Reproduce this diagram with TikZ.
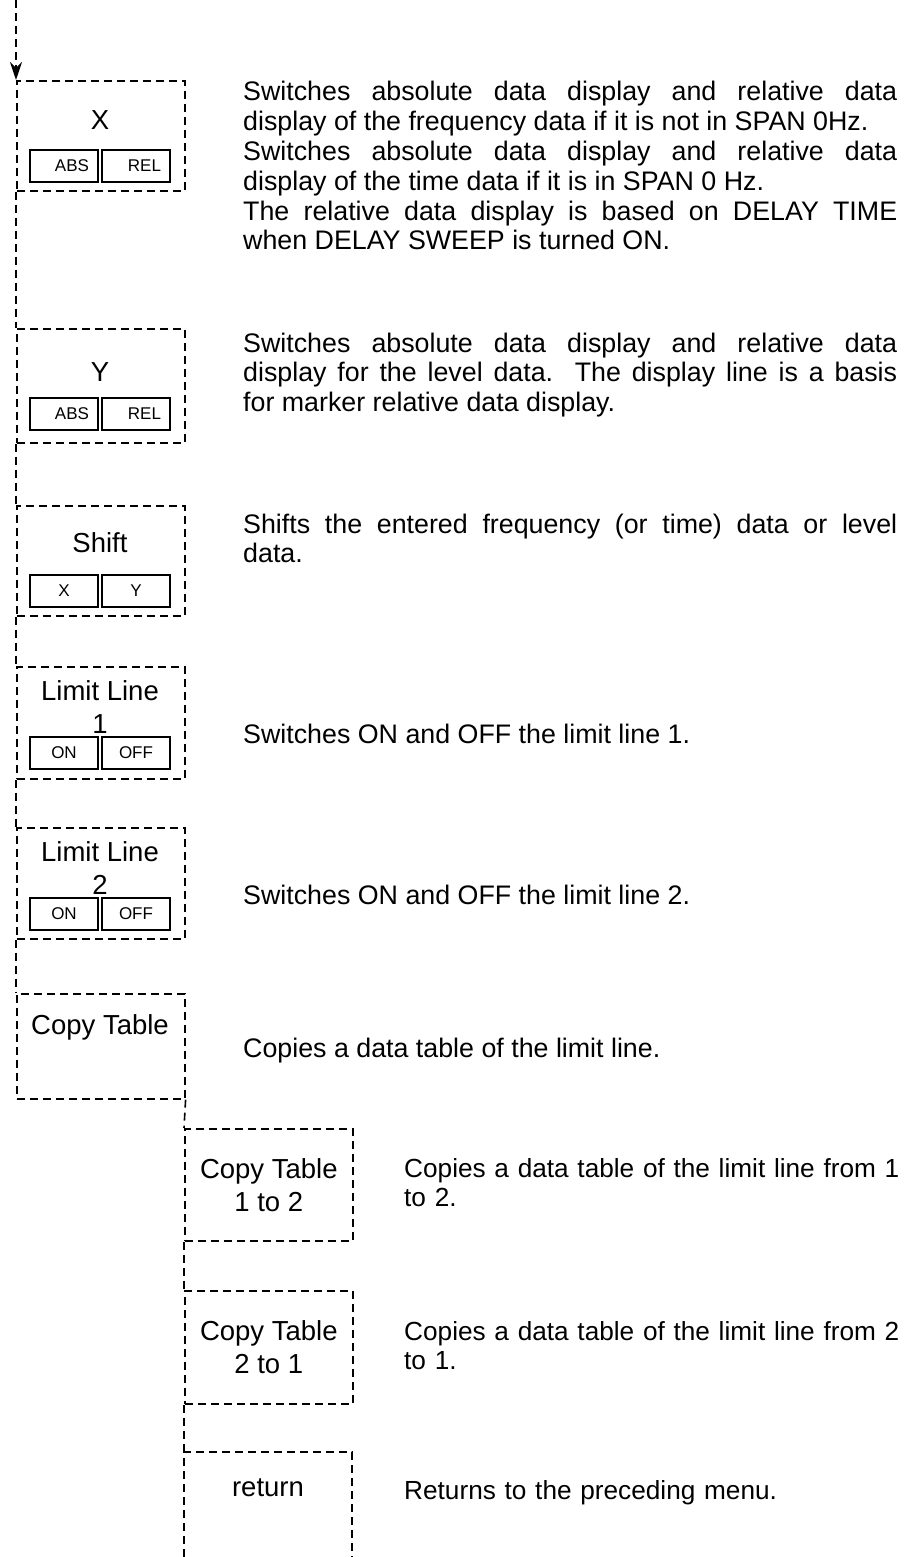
\documentclass[tikz,border=0pt]{standalone}
\usepackage{fontspec}
\setmainfont{Liberation Sans}
\usetikzlibrary{arrows.meta,positioning}
\tolerance=10000
\hbadness=10000
\tikzset{
  >={Stealth[length=18pt,width=12pt]},
  % Menütasten
  menubox/.style={draw,line width=1.6pt,dash pattern=on 8pt off 5pt,
                  anchor=north west,inner sep=0pt,minimum width=168pt},
  flow/.style={draw,line width=1.6pt,dash pattern=on 8pt off 5pt},
  keylbl/.style={font=\fontsize{27.5}{33}\selectfont,inner sep=0pt,align=center},
  softkey/.style={draw,line width=1.8pt,minimum width=68pt,minimum height=32pt,
                  inner sep=0pt,font=\fontsize{17}{19}\selectfont},
  softkeyr/.style={softkey,text width=50pt,align=right},
  % Beschreibungen
  desc/.style={font=\fontsize{26.8}{29.8}\selectfont,inner sep=0pt,anchor=base west},
  descj/.style={desc,text width=654pt,align=justify},
  descs/.style={desc,font=\fontsize{26.2}{29.8}\selectfont,text width=505pt,align=left},
}
\begin{document}
\begin{tikzpicture}[x=1pt,y=-1pt]
  \useasboundingbox (0,0) rectangle (918,1557);
  \coordinate (entry) at (16,0);
  \node[menubox,minimum height=110pt] (mx) at (16,80) {};
  \node[menubox,minimum height=114pt] (my) at (16,328) {};
  \node[menubox,minimum height=110pt] (mshift) at (16,505) {};
  \node[menubox,minimum height=112pt] (mlim1) at (16,666) {};
  \node[menubox,minimum height=111pt] (mlim2) at (16,827) {};
  \node[menubox,minimum height=105pt] (mcopy) at (16,993) {};
  \node[menubox,minimum height=112pt] (mc12) at (184,1128) {};
  \node[menubox,minimum height=113pt] (mc21) at (184,1290) {};
  \coordinate (retnw) at (184,1452);
  \coordinate (retne) at (352,1452);
  \coordinate (retsw) at (184,1557);
  \coordinate (retse) at (352,1557);
  % Verbindungen
  \draw[flow,->] (entry) -- (mx.north west);
  \draw[flow] (mx.south west) -- (my.north west);
  \draw[flow] (my.south west) -- (mshift.north west);
  \draw[flow] (mshift.south west) -- (mlim1.north west);
  \draw[flow] (mlim1.south west) -- (mlim2.north west);
  \draw[flow] (mlim2.south west) -- (mcopy.north west);
  \draw[flow] (mcopy.south east) -- (mc12.north west);
  \draw[flow] (mc12.south west) -- (mc21.north west);
  \draw[flow] (mc21.south west) -- (retnw);
  \draw[flow] (retsw) -- (retnw) -- (retne) -- (retse);
  % Tastenbeschriftung
  \node[keylbl] (lx) at (100,120) {X};
  \node[softkeyr] (kxabs) at (64,166) {ABS};
  \node[softkeyr] (kxrel) at (136,166) {REL};
  \node[keylbl] (ly) at (100,372) {Y};
  \node[softkeyr] (kyabs) at (64,414) {ABS};
  \node[softkeyr] (kyrel) at (136,414) {REL};
  \node[keylbl] (lshift) at (100,543) {Shift};
  \node[softkey] (kshx) at (64,591) {X};
  \node[softkey] (kshy) at (136,591) {Y};
  \node[keylbl] (llim1) at (100,707) {Limit Line\\1};
  \node[softkey] (kl1on) at (64,753) {ON};
  \node[softkey] (kl1off) at (136,753) {OFF};
  \node[keylbl] (llim2) at (100,868) {Limit Line\\2};
  \node[softkey] (kl2on) at (64,914) {ON};
  \node[softkey] (kl2off) at (136,914) {OFF};
  \node[keylbl] (lcopy) at (100,1027) {Copy Table};
  \node[keylbl] (lc12) at (mc12) {Copy Table\\1 to 2};
  \node[keylbl] (lc21) at (mc21) {Copy Table\\2 to 1};
  \node[keylbl] (lret) at (268,1488) {return};
  % Texte
  \node[descj] (dx) at (243,101) {Switches absolute data display and relative data\linebreak
    display of the frequency data if it is not in SPAN 0Hz.\\
    Switches absolute data display and relative data\linebreak
    display of the time data if it is in SPAN 0 Hz.\\
    The relative data display is based on DELAY TIME\linebreak
    when DELAY SWEEP is turned ON.};
  \node[descj] (dy) at (243,352) {Switches absolute data display and relative data\linebreak
    display for the level data.\ \ The display line is a basis\linebreak
    for marker relative data display.};
  \node[descj] (dshift) at (243,533) {Shifts the entered frequency (or time) data or level\linebreak
    data.};
  \node[desc] (dlim1) at (243,743) {Switches ON and OFF the limit line 1.};
  \node[desc] (dlim2) at (243,904) {Switches ON and OFF the limit line 2.};
  \node[desc] (dcopy) at (243,1057) {Copies a data table of the limit line.};
  \node[descs] (dc12) at (404,1177)
    {Copies a data table of the limit line from 1\\to 2.};
  \node[descs] (dc21) at (404,1340)
    {Copies a data table of the limit line from 2\\to 1.};
  \node[descs] (dret) at (404,1499) {Returns to the preceding menu.};
\end{tikzpicture}
\end{document}
